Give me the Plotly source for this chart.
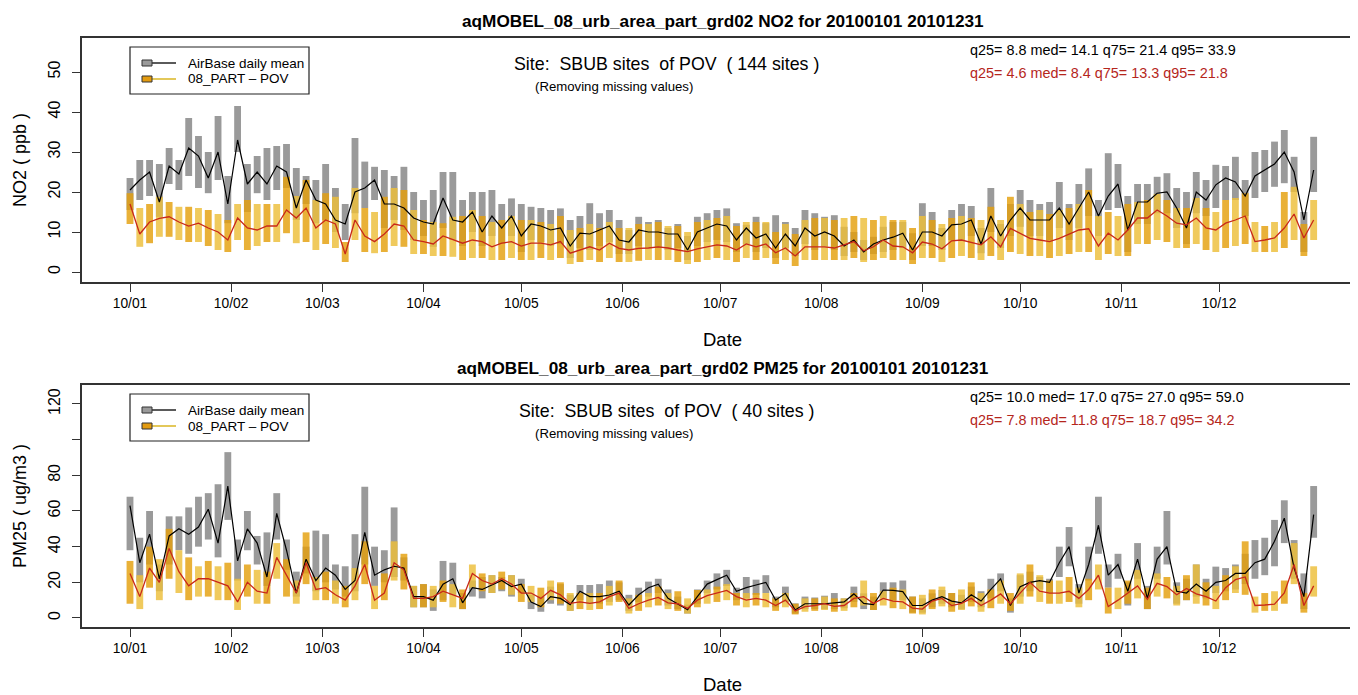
import numpy as np
import pandas as pd
import plotly.graph_objects as go

# ---------------- data (3-day samples, 2010-01-01 .. 2010-12-30) ----------------
dates = pd.date_range("2010-01-01", periods=122, freq="3D")
month_starts = pd.date_range("2010-01-01", periods=12, freq="MS")
month_labels = [d.strftime("%y/%m") for d in month_starts]

no2_obs_mean = [20.5, 23, 25, 17.5, 26.5, 24.5, 31, 29, 23.5, 30,
                17, 33, 22, 25, 22, 26.5, 25, 16, 23, 18,
                17, 13, 12, 20, 21, 23, 17, 17, 16, 13.5,
                12.5, 12, 18.5, 13, 12.5, 15, 10, 14, 11, 14,
                9, 12, 11.5, 10.5, 11, 6.5, 9.7, 9.5, 10.5, 11.5,
                8, 7.5, 10.5, 10, 10, 9.5, 9.5, 5.5, 10, 11,
                12, 11.5, 8, 11, 8.5, 9.5, 6, 9.5, 6.5, 11,
                9, 10, 9, 6.5, 8, 5, 7, 8, 8.7, 9.7,
                5.5, 10, 10, 9, 11.8, 12, 13, 7, 14, 9,
                13, 16, 13, 13, 13, 16, 12, 16, 20, 14,
                19, 22, 10.5, 17.5, 17.5, 19.7, 20, 16, 11, 20,
                18, 21.8, 23.5, 22.5, 19, 24, 25.5, 27, 30, 25,
                13, 25.5]
no2_obs_hi = [23.5, 28, 28, 27, 31, 28, 38.5, 34, 30, 39,
              24, 41.5, 27, 29, 31, 31.5, 32, 26, 24, 23,
              27, 21, 17, 33.5, 27.6, 26.3, 25.5, 24, 26.3, 20,
              18, 20.5, 25, 25, 18, 20, 20, 20.5, 17, 18.4,
              17, 16.3, 16, 15.5, 15.9, 13, 14, 17.2, 14.7, 15.5,
              13, 10.5, 13.8, 12.5, 13, 11, 12, 9, 13.8, 14.7,
              15.5, 15.9, 12.2, 11.8, 13.8, 12.2, 14.2, 12.5, 11, 15.5,
              14.7, 13.8, 14.2, 11.3, 10, 8, 8.8, 11.3, 12.5, 12.5,
              9.7, 17.2, 15, 11, 15.5, 17, 16.5, 11, 21, 12,
              17, 20.5, 18, 17, 17.5, 22.5, 17, 22, 25.9, 18,
              29.7, 27, 19, 22, 22, 23.8, 24.7, 21, 20, 25,
              23, 26.8, 26.5, 28.8, 23, 30, 30.5, 32.6, 35.5, 28.8,
              15, 33.8]
no2_obs_lo = [15.5, 18, 19, 13.8, 22, 20.5, 24, 21, 19.7, 23,
              12.2, 30, 15, 19.7, 18, 20.5, 21, 13, 17, 12.2,
              13, 10, 8, 14.7, 16, 18, 11, 13, 10.5, 8,
              9, 6.3, 11, 8, 6.5, 10, 6.5, 9, 7, 9,
              5, 8, 7.5, 6.5, 7, 3.5, 6, 5.5, 6.5, 7.5,
              4.5, 4.5, 6.5, 6, 6, 5.5, 6, 3, 6.5, 7.5,
              8, 7.5, 5, 7, 5, 6, 3.5, 6, 4, 7,
              5.5, 6.5, 5.5, 4, 5, 3, 4.5, 5, 5.5, 6,
              3, 6.5, 6.5, 5.5, 8, 8, 9, 4.7, 10, 6,
              9, 11.3, 9, 9, 8, 11, 8, 11, 14, 9,
              15.5, 16, 5, 12, 12, 14.7, 14.7, 11, 7, 14.7,
              14, 16, 18, 18, 14, 18.5, 20, 21.3, 22.2, 20,
              5, 20]
no2_mod_mean = [17, 9.5, 12.5, 13.4, 13.8, 12.5, 11.5, 12.2, 11, 10,
                8, 13.5, 11, 10.5, 11.5, 11.5, 15.5, 13.5, 16, 11,
                13, 12, 4.5, 13, 9, 7.6, 9.5, 12, 11.5, 8,
                7.6, 7, 9, 8, 7.2, 8, 7.6, 6.3, 7.2, 7.6,
                6.5, 7.2, 7.2, 6.8, 7.6, 4.7, 5.5, 6.3, 5.5, 7.2,
                5.9, 5.5, 5.9, 6, 6.3, 6, 5.5, 5.1, 5.8, 6.3,
                6.8, 6.5, 5.5, 7, 6.3, 7, 4.8, 6, 4, 6.3,
                6.3, 6.3, 6, 6.8, 7.6, 5.3, 6.3, 8, 6.5, 6.3,
                4.8, 7.5, 7, 5.8, 7.8, 8, 7.4, 6.8, 8.8, 6.3,
                10.9, 9.7, 8.4, 8, 7.6, 8.4, 9.5, 10.5, 10.8, 6.5,
                9.7, 8, 10.5, 13.5, 13.5, 15.5, 14, 12.2, 11.8, 13.5,
                11, 10.5, 12.2, 13, 14, 7.6, 8, 8.5, 11, 14.5,
                8.5, 13]
no2_mod_hi = [19.7, 16, 17, 18.8, 17.5, 16.3, 16.3, 16, 15.5, 14.5,
              13, 17, 18, 17, 17, 17, 23.8, 19, 23, 18,
              19.7, 18.8, 7.5, 21, 16, 15, 18.8, 21, 20.5, 15.5,
              13, 12.5, 12.2, 13.8, 14, 15.5, 14, 12.5, 13, 14,
              13, 13, 12.5, 12, 14, 10.5, 11, 12, 11, 12.5,
              11, 11, 12, 12, 12.5, 11.5, 11.5, 10, 12.5, 13,
              13.5, 14, 11.5, 12.5, 12.5, 12.5, 10, 12, 9.5, 13,
              13.5, 13.5, 13, 13.5, 14, 13.5, 13, 14, 13, 13,
              11, 14, 13, 12, 13.5, 14, 13.5, 13, 16.3, 13,
              18.8, 17, 15, 15.5, 14.5, 15.5, 16, 17, 20.5, 14,
              15, 14, 17, 17.5, 18, 19.5, 18, 16, 16, 18.5,
              16, 15, 18, 18.5, 19.7, 12.5, 11.5, 12.5, 20, 21.3,
              12, 18]
no2_mod_lo = [12, 6.3, 7.2, 8.8, 8.8, 8, 7.5, 7.5, 6.5, 5.5,
              5, 8, 5.5, 6.5, 7.5, 7.5, 9.7, 7.2, 7.5, 5.5,
              7, 6, 2.5, 8, 5, 4.7, 5, 6.5, 6.3, 4.5,
              4.5, 4, 4, 3.8, 3, 3.5, 3.5, 3, 3, 3.5,
              3, 3, 3.5, 3, 3.5, 2, 2.5, 3, 2.5, 3.5,
              2.5, 2.5, 2.8, 3, 3, 3, 2.5, 2, 2.5, 3,
              3.5, 3, 2.5, 3.5, 3, 3.5, 2, 3, 1.5, 3,
              3, 3, 3, 3, 3.5, 2.5, 3, 3.5, 3, 3,
              2, 3.5, 3.5, 2.5, 3.5, 4, 3.5, 3, 4, 3,
              5, 4.5, 4, 4, 3.5, 4, 4.5, 5, 5, 3,
              4.5, 4, 4, 7, 7, 8, 7.5, 6, 6, 7,
              5.5, 5, 6, 6.5, 7, 5, 5, 5, 6, 8,
              4, 8]

pm25_obs_mean = [63, 31, 47, 22, 46, 50, 47, 51, 61, 42,
                 74, 32, 50, 42, 23, 58.7, 38, 14, 33, 21,
                 28, 24, 16, 21, 48, 24, 27, 29, 28, 12,
                 12, 10, 19, 22, 8.5, 17, 16, 18.5, 21, 17.6,
                 19, 9, 6.4, 12, 11, 7.5, 15, 12, 12, 12.9,
                 15, 7.3, 13, 17, 19, 11, 8, 4.6, 12, 19,
                 21.5, 24, 15, 17, 18.5, 20, 10, 13.8, 4.5, 8,
                 8, 8, 8.5, 9, 13.5, 8.2, 7.5, 15.7, 15.5, 14.8,
                 7, 7, 10, 12, 9.5, 8.5, 13, 9.5, 16, 22,
                 7, 17.6, 20, 21, 20, 31, 40, 14, 30, 52,
                 24, 30, 15, 33, 11, 33, 40, 15, 14, 19,
                 15, 20, 21, 25, 25, 31, 33, 43, 56, 28,
                 12, 58]
pm25_obs_hi = [68, 45, 60, 30, 57, 57, 62, 68, 70, 75,
               93, 44, 60, 46, 48, 70, 44, 26, 40, 49,
               47, 30, 29, 47, 73.6, 40, 38, 62, 34, 18,
               19, 16, 32, 31, 14, 21, 23, 24, 23, 24,
               22, 13, 12, 17.6, 19, 13, 18.5, 18.5, 19, 21,
               20, 13, 17, 20.4, 22, 16, 12, 7.5, 16, 21,
               25, 27, 17, 23, 21.5, 24, 12, 17.6, 8.2, 12,
               11.5, 12.5, 14, 11, 17.6, 13.8, 12, 20, 20, 21,
               12, 11, 13.8, 15.7, 14, 13, 17.6, 15, 22, 25,
               11, 24, 26, 23, 22, 40, 51, 19, 40, 68,
               30, 36, 20, 42, 18, 40, 60, 20, 22, 30,
               22, 28.8, 28, 30, 36, 43.7, 45, 55, 66, 43.7,
               25, 74]
pm25_obs_lo = [38, 20, 30, 15, 30, 38, 36, 40, 44, 34,
               55, 21, 38, 30, 18, 44, 27, 12, 25, 15,
               20, 16, 12, 15, 30, 18, 20, 23, 21, 6,
               6, 4, 10, 13, 5, 12, 11, 14, 15, 12,
               14, 5, 3.5, 8, 7, 4, 10, 8, 8, 9,
               10, 4, 9, 12, 14, 7, 5, 2.5, 8, 14,
               16, 18, 10, 11, 13, 14, 6, 9, 2.5, 5,
               5, 5, 5, 5.5, 9, 5, 4.5, 11, 10, 10,
               3, 3, 6, 8, 6, 5, 9, 6, 11, 15,
               3, 12, 15, 16, 14, 23, 29, 8, 21, 36,
               17, 22, 7, 22, 5, 22, 30, 8, 10, 12,
               11, 14, 15, 16, 19, 22, 24, 29, 42, 22,
               5, 45]
pm25_mod_mean = [25, 12, 28, 20, 39, 26, 18, 22, 22, 20,
                 18, 9, 20, 15, 14, 34, 24, 14, 31, 16,
                 17, 13, 10, 18, 30, 10, 14, 31, 27, 11,
                 11, 12, 15, 13, 11, 25, 21, 19, 22, 19,
                 14, 14, 11, 15.5, 13, 8.2, 9, 8.2, 9, 12,
                 14, 5.4, 8, 10, 11.5, 8.5, 8, 5.4, 10, 12.5,
                 13.8, 15.5, 12, 10, 11, 10, 7, 10, 4, 6.4,
                 7, 8, 6.5, 7, 11, 12, 8.2, 11, 9.5, 9,
                 5.5, 5, 9.5, 11, 7, 8.2, 11, 7, 10, 13.5,
                 8, 13.8, 20, 15, 14, 14, 15, 11, 16, 24,
                 6.4, 10, 14, 18, 10.5, 19.4, 17.6, 13, 16.6, 13.5,
                 12, 9.5, 17, 21.5, 23, 7, 7.3, 7.8, 14, 30,
                 7, 18]
pm25_mod_hi = [32, 24, 40, 33, 50, 38, 34, 29, 32, 29,
               31, 22, 30, 27, 26, 42, 33, 21, 48, 23,
               26, 21, 18, 28, 43, 18, 25, 43, 36, 18,
               19, 18, 21, 19, 16, 30, 25, 24, 26, 24,
               19, 18, 17, 21, 20, 14, 14, 14, 14, 18,
               21, 11, 13, 14, 17.6, 14, 15, 11, 15.7, 16,
               17.6, 19, 14, 14, 14, 14, 11, 14, 8, 11,
               11, 12, 11, 11, 14, 21, 14, 15, 17, 16,
               12, 13, 16, 17.6, 14, 16, 20, 14, 16, 21,
               14, 25, 30, 24, 21, 21, 23, 17, 22, 30,
               17, 17, 21, 27, 17, 25, 23, 18, 24, 30,
               20, 18, 24, 29, 43, 12, 14, 15, 21, 42,
               14, 29]
pm25_mod_lo = [8, 5, 17, 10, 22, 14, 10, 12, 12, 10,
               10, 4.5, 12, 8, 8, 22, 12, 8, 19, 10,
               10, 8, 6, 10, 19, 5, 10, 21, 16, 6,
               6, 6, 9, 6, 5, 17, 15, 14, 16, 13,
               9, 9, 6, 10, 8, 4, 5, 4.5, 5, 7,
               9, 2.5, 4, 6, 7, 5, 4, 2.5, 6, 8,
               9, 10, 7, 6, 7, 6, 4, 6, 2, 3.5,
               4, 4.5, 3.5, 4, 6, 7, 4.5, 7, 5.5, 5,
               2.5, 2, 5, 6.5, 3.5, 4.5, 6.5, 3.5, 5.5, 8,
               4, 8, 12, 9, 8, 8, 9, 6, 10, 16,
               2.5, 5, 8, 11, 5, 12, 11, 7, 10, 8,
               7, 5, 10, 14, 13, 3, 4, 4, 8, 19,
               3, 12]

# ---------------- styling ----------------
# The page body adds an 8px margin, so the figure is drawn 8px in from the top-left
# of the 1358x695 window; all layout positions below are given in window pixels.
OFF = 8
W, H = 1358 - OFF, 695 - OFF
FONT = "Liberation Sans, Arial, Helvetica, sans-serif"
GRAY = "#9a9a9a"
ORANGES = ["#E5A00D", "#EDBF3A"]
RED = "#C8281A"
QRED = "#B5261C"
NB = "\u00a0"


def px(x):
    return (x - OFF) / W


def py(y):
    return 1 - (y - OFF) / H


start = pd.Timestamp("2010-01-01")
xrange_ = [str(start + pd.Timedelta(days=-14.72)), str(start + pd.Timedelta(days=376.6))]
bw = 2.1 * 86400000

panels = [
    dict(obs_mean=no2_obs_mean, obs_hi=no2_obs_hi, obs_lo=no2_obs_lo,
         mod_mean=no2_mod_mean, mod_hi=no2_mod_hi, mod_lo=no2_mod_lo,
         top=38, bottom=282, yrange=[-2.5, 58.5], ticks=[0, 10, 20, 30, 40, 50],
         ticktext=["0", "10", "20", "30", "40", "50"],
         title="aqMOBEL_08_urb_area_part_grd02 NO2 for 20100101 20101231",
         ylabel="NO2 ( ppb )", nsites="144",
         q1="q25= 8.8 med= 14.1 q75= 21.4 q95= 33.9",
         q2="q25= 4.6 med= 8.4 q75= 13.3 q95= 21.8"),
    dict(obs_mean=pm25_obs_mean, obs_hi=pm25_obs_hi, obs_lo=pm25_obs_lo,
         mod_mean=pm25_mod_mean, mod_hi=pm25_mod_hi, mod_lo=pm25_mod_lo,
         top=385, bottom=627, yrange=[-5.05, 130.65], ticks=[0, 20, 40, 60, 80, 100, 120],
         ticktext=["0", "20", "40", "60", "80", "", "120"],
         title="aqMOBEL_08_urb_area_part_grd02 PM25 for 20100101 20101231",
         ylabel="PM25 ( ug/m3 )", nsites="40",
         q1="q25= 10.0 med= 17.0 q75= 27.0 q95= 59.0",
         q2="q25= 7.8 med= 11.8 q75= 18.7 q95= 34.2"),
]

fig = go.Figure()
annotations = []
shapes = []
ocolors = [ORANGES[i % 2] for i in range(len(dates))]


def ann(x, y, text, size, color="black", xanchor="center", angle=0):
    annotations.append(dict(x=px(x), y=py(y), xref="paper", yref="paper",
                            xanchor=xanchor, yanchor="middle", text=text, showarrow=False,
                            textangle=angle, font=dict(size=size, color=color, family=FONT)))


for k, p in enumerate(panels):
    xa = "x" if k == 0 else "x2"
    ya = "y" if k == 0 else "y2"
    olo = np.array(p["obs_lo"], float)
    ohi = np.array(p["obs_hi"], float)
    mlo = np.array(p["mod_lo"], float)
    mhi = np.array(p["mod_hi"], float)
    fig.add_trace(go.Bar(x=dates, y=ohi - olo, base=olo, width=bw,
                         marker=dict(color=GRAY, line=dict(width=0)),
                         xaxis=xa, yaxis=ya, showlegend=False, hoverinfo="skip"))
    fig.add_trace(go.Bar(x=dates, y=mhi - mlo, base=mlo, width=bw,
                         marker=dict(color=ocolors, line=dict(width=0)), opacity=0.82,
                         xaxis=xa, yaxis=ya, showlegend=False, hoverinfo="skip"))
    fig.add_trace(go.Scatter(x=dates, y=p["obs_mean"], mode="lines",
                             line=dict(color="black", width=1.2),
                             xaxis=xa, yaxis=ya, showlegend=False))
    fig.add_trace(go.Scatter(x=dates, y=p["mod_mean"], mode="lines",
                             line=dict(color=RED, width=1.3),
                             xaxis=xa, yaxis=ya, showlegend=False))

    T = p["top"]
    ann(723, T - 17, "<b>" + p["title"] + "</b>", 17.2)
    ann(20, (T + p["bottom"]) / 2, p["ylabel"].replace(" ", NB), 18, angle=-90)
    ann(722, p["bottom"] + 57, "Date", 18.5)
    site = "Site:" + NB * 2 + "SBUB sites" + NB * 2 + "of POV" + NB * 2 + "( " + p["nsites"] + " sites )"
    ann(666, T + 26, site, 17.8)
    ann(614, T + 48, "(Removing missing values)", 13.2)
    ann(968, T + 12, p["q1"], 14.4, xanchor="left")
    ann(968, T + 34.5, p["q2"], 14.4, color=QRED, xanchor="left")
    # legend
    shapes.append(dict(type="rect", xref="paper", yref="paper",
                       x0=px(130), x1=px(309), y0=py(T + 9), y1=py(T + 56),
                       line=dict(color="#222", width=1.2), fillcolor="white", layer="above"))
    for row, (fill, lcol, label) in enumerate([(GRAY, "black", "AirBase daily mean"),
                                               ("#E39B10", "#D4AA00", "08_PART " + "\u2013" + " POV")]):
        yc = T + 25 + 16 * row
        shapes.append(dict(type="line", xref="paper", yref="paper",
                           x0=px(152), x1=px(176), y0=py(yc), y1=py(yc),
                           line=dict(color=lcol, width=1.3), layer="above"))
        shapes.append(dict(type="rect", xref="paper", yref="paper",
                           x0=px(142), x1=px(152), y0=py(yc + 3), y1=py(yc - 3),
                           line=dict(color="#333", width=1), fillcolor=fill, layer="above"))
        ann(186, yc, label, 13.5, xanchor="left")

axis_common = dict(showgrid=False, zeroline=False, showline=True, linecolor="#333", linewidth=1.5,
                   ticks="outside", ticklen=8, tickwidth=1, tickcolor="#333", automargin=False)

layout = dict(
    width=W, height=H, margin=dict(l=0, r=0, t=0, b=0, autoexpand=False),
    paper_bgcolor="white", plot_bgcolor="white", barmode="overlay", showlegend=False,
    font=dict(family=FONT, color="black"),
    annotations=annotations, shapes=shapes,
)
for k, p in enumerate(panels):
    xs = "xaxis" if k == 0 else "xaxis2"
    ys = "yaxis" if k == 0 else "yaxis2"
    xa = "x" if k == 0 else "x2"
    ya = "y" if k == 0 else "y2"
    layout[xs] = dict(axis_common, domain=[px(82), 1], range=xrange_, anchor=ya, mirror=True,
                      tickmode="array", tickvals=month_starts, ticktext=month_labels,
                      tickfont=dict(size=13.8, family=FONT), ticklabelstandoff=0)
    layout[ys] = dict(axis_common, domain=[py(p["bottom"]), py(p["top"])], range=p["yrange"],
                      anchor=xa, tickmode="array", tickvals=p["ticks"], ticktext=p["ticktext"],
                      tickangle=-90, tickfont=dict(size=16, family=FONT), ticklabelstandoff=6)

fig.update_layout(**layout)
fig.write_html("out.html")
